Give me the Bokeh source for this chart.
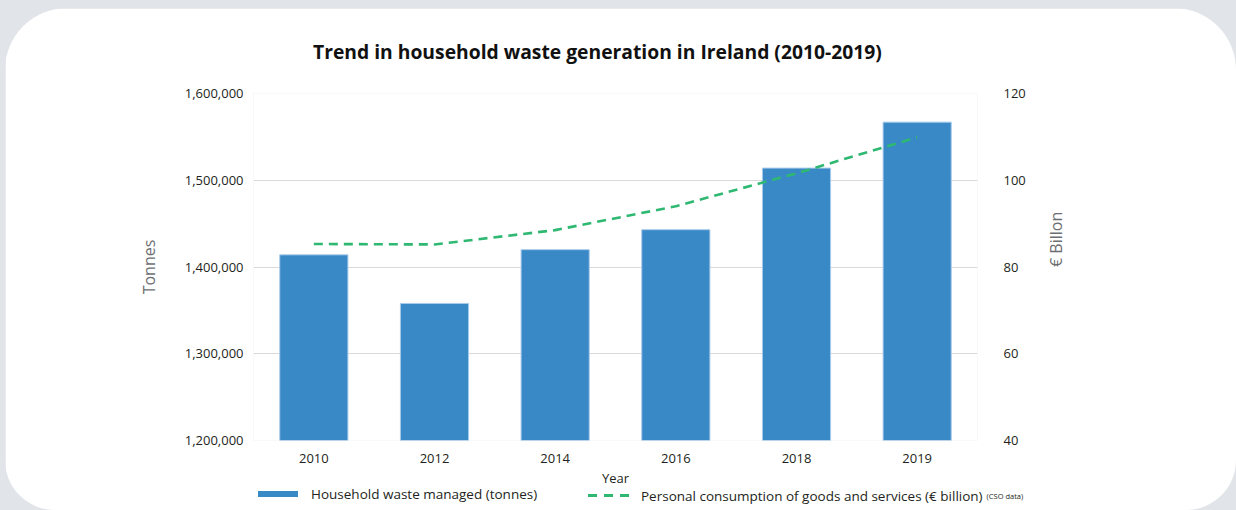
import math
from bokeh.plotting import figure
from bokeh.layouts import column
from bokeh.models import (LinearAxis, Range1d, FactorRange, Div,
                          NumeralTickFormatter, FixedTicker)
from bokeh.embed import file_html
from bokeh.resources import INLINE

years = ["2010", "2012", "2014", "2016", "2018", "2019"]
waste_tonnes = [1414000, 1358000, 1420000, 1443000, 1514000, 1567000]
consumption_bn = [85.3, 85.2, 88.5, 94.0, 101.6, 109.9]
left_ticks = [1200000, 1300000, 1400000, 1500000, 1600000]
right_ticks = [40, 60, 80, 100, 120]
title_text = "Trend in household waste generation in Ireland (2010-2019)"
legend_bar_label = "Household waste managed (tonnes)"
legend_line_label = "Personal consumption of goods and services (€ billion)"
legend_note = "(CSO data)"

FONT = "Open Sans"
BAR = "#3a89c7"
GREEN = "#2fb872"
TXT = "#231f20"

fig = figure(width=1231, height=502, output_backend="svg", toolbar_location=None,
             x_range=FactorRange(*years), y_range=Range1d(1200000, 1600000),
             min_border_left=248, min_border_right=259, min_border_top=85, min_border_bottom=70,
             border_fill_color="white", background_fill_color="white", outline_line_color=None)
fig.styles = {"margin": "8px 0 0 5px", "border-radius": "62px 62px 50px 50px", "overflow": "hidden"}

bars = fig.vbar(x=years, top=waste_tonnes, bottom=1200000, width=0.565,
                fill_color=BAR, line_color="#a9cbea", line_width=1)

fig.extra_y_ranges = {"eur": Range1d(40, 120)}
line = fig.line(x=years, y=consumption_bn, y_range_name="eur",
                line_color=GREEN, line_width=2.6, line_dash="9 6")

ya = fig.yaxis[0]
ya.ticker = FixedTicker(ticks=left_ticks)
ya.formatter = NumeralTickFormatter(format="0,0")
ya.axis_label = "Tonnes"
ya.axis_label_standoff = 22
ya.major_label_standoff = 4

ra = LinearAxis(y_range_name="eur", ticker=FixedTicker(ticks=right_ticks), axis_label="€ Billon")
ra.axis_label_standoff = 27
ra.major_label_standoff = 20
ra.axis_label_orientation = math.pi / 2
fig.add_layout(ra, "right")

for ax in (ya, ra):
    ax.axis_line_color = None
    ax.major_tick_line_color = None
    ax.minor_tick_line_color = None
    ax.major_label_text_font = FONT
    ax.major_label_text_font_size = "13px"
    ax.major_label_text_color = TXT
    ax.axis_label_text_font = FONT
    ax.axis_label_text_font_size = "16px"
    ax.axis_label_text_font_style = "normal"
    ax.axis_label_text_color = "#6d6e71"

xa = fig.xaxis[0]
xa.axis_label = "Year"
xa.axis_line_color = None
xa.major_tick_line_color = None
xa.minor_tick_line_color = None
xa.major_label_text_font = FONT
xa.major_label_text_font_size = "13px"
xa.major_label_text_color = TXT
xa.major_label_standoff = 7
xa.axis_label_text_font = FONT
xa.axis_label_text_font_size = "13px"
xa.axis_label_text_font_style = "normal"
xa.axis_label_text_color = TXT
xa.axis_label_standoff = 3

fig.xgrid.grid_line_color = None
fig.ygrid.grid_line_color = "#d9d9d9"
fig.ygrid.ticker = FixedTicker(ticks=left_ticks)

def abs_div(html, left, top, extra=None):
    st = {"position": "absolute", "left": f"{left}px", "top": f"{top}px",
          "font-family": FONT, "color": TXT, "white-space": "nowrap"}
    if extra:
        st.update(extra)
    return Div(text=html, styles=st, margin=0)

title_div = abs_div(title_text, 313, 40,
                    {"font-size": "19.3px", "font-weight": "bold", "line-height": "24px", "color": "#111111"})

row_css = "display:flex;align-items:center;height:16px;"
leg1 = abs_div(
    f'<div style="{row_css}"><span style="display:inline-block;width:40px;height:6px;background:{BAR};"></span>'
    f'<span style="margin-left:13px;font-size:13.5px;line-height:16px;">{legend_bar_label}</span></div>',
    258, 484)
dash_css = (f"display:inline-block;width:42px;height:3px;"
            f"background:repeating-linear-gradient(to right,{GREEN} 0 9px,transparent 9px 16px);")
leg2 = abs_div(
    f'<div style="{row_css}"><span style="{dash_css}"></span>'
    f'<span style="margin-left:11px;font-size:13.5px;line-height:16px;">{legend_line_label}</span>'
    f'<span style="margin-left:4px;font-size:7.5px;line-height:16px;">{legend_note}</span></div>',
    588, 484)

p = column(fig, title_div, leg1, leg2, styles={"background-color": "#e1e4e8", "position": "relative"})

open("out.html", "w").write(file_html(p, INLINE))
